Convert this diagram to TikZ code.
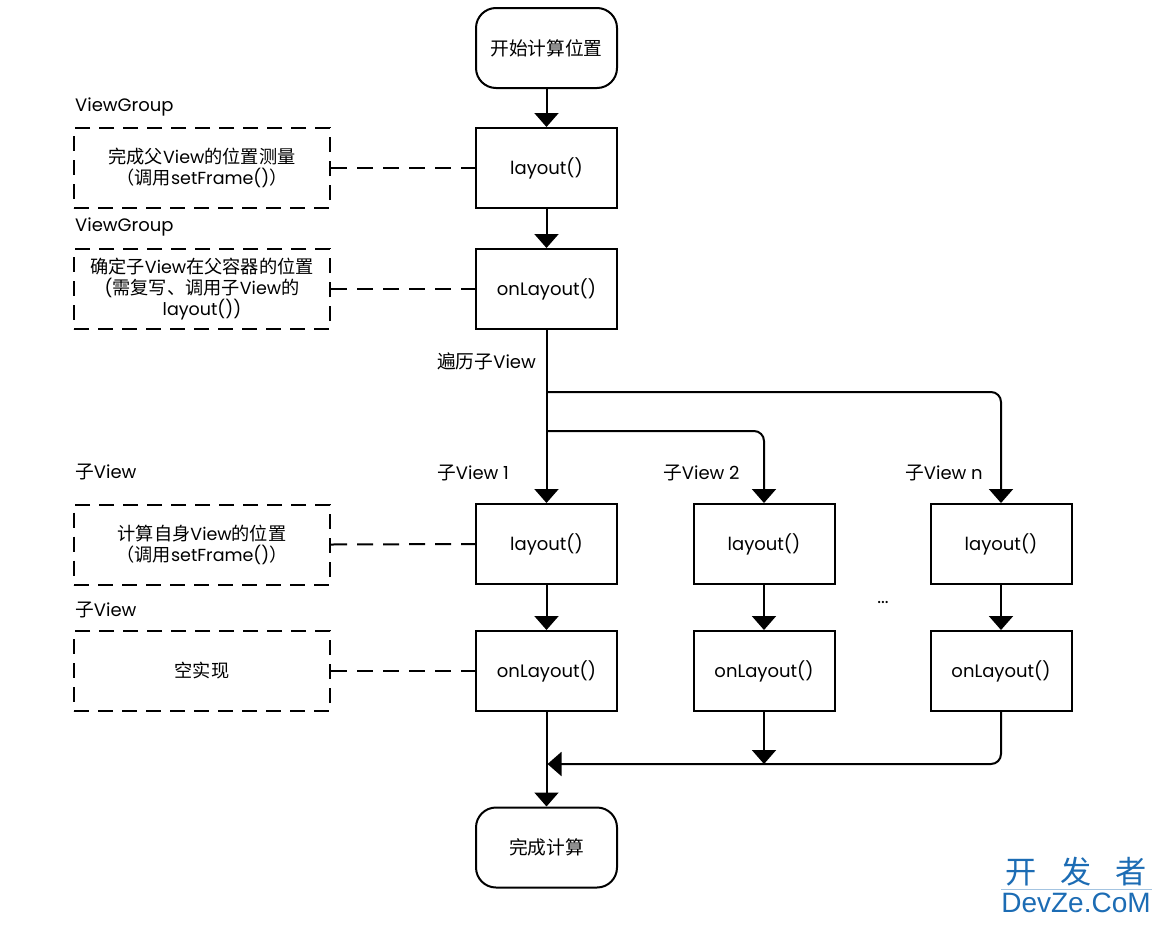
\documentclass[tikz,border=0pt]{standalone}
\usepackage{fontspec}
\setmainfont{Poppins}
\newfontfamily\cjkf[Scale=1.04]{Noto Sans CJK SC}
\newfontfamily\wmfont{Liberation Sans}
\newcommand{\zhc}[1]{{\cjkf #1}}
\usetikzlibrary{arrows.meta}
\definecolor{wmblue}{RGB}{28,108,180}
\begin{document}
\begin{tikzpicture}[x=1pt,y=-1pt,
  txt/.style={font=\fontsize{18}{20}\selectfont},
  box/.style={draw,line width=2pt,minimum width=141pt,minimum height=80pt,inner sep=0pt,align=center,txt},
  term/.style={box,rounded corners=20pt},
  note/.style={draw,line width=2pt,dash pattern=on 15pt off 9pt,minimum width=256pt,minimum height=80pt,inner sep=0pt,align=center,font=\fontsize{17.5}{21}\selectfont},
  lbl/.style={anchor=west,inner sep=0pt,txt},
  arr/.style={line width=2pt,-{Triangle[width=24pt,length=14pt]}},
  link/.style={line width=2pt,dash pattern=on 16pt off 10pt}
]
\useasboundingbox (0,0) rectangle (1159,924);
% main column
\node[term] (start) at (546.5,48) {\zhc{开始计算位置}};
\node[box] (lay0) at (546.5,168) {layout()};
\node[box] (onl0) at (546.5,289) {onLayout()};
\node[box] (lay1) at (546.5,544) {layout()};
\node[box] (onl1) at (546.5,671) {onLayout()};
\node[box] (lay2) at (764,544) {layout()};
\node[box] (onl2) at (764,671) {onLayout()};
\node[box] (layn) at (1001,544) {layout()};
\node[box] (onln) at (1001,671) {onLayout()};
\node[term] (end) at (546.5,847.5) {\zhc{完成计算}};
% notes
\node[note] (n1) at (202,168) {\zhc{完成父}View\zhc{的位置测量}\\\zhc{（调用}setFrame()\zhc{）}};
\node[note] (n2) at (202,289) {\zhc{确定子}View\zhc{在父容器的位置}\\(\zhc{需复写、调用子}View\zhc{的}\\layout())};
\node[note] (n3) at (202,544.5) {\zhc{计算自身}View\zhc{的位置}\\\zhc{（调用}setFrame()\zhc{）}};
\node[note] (n4) at (202,671) {\zhc{空实现}};
% labels
\node[lbl] (t1) at (75,107) {ViewGroup};
\node[lbl] (t2) at (75,227) {ViewGroup};
\node[lbl] (t3) at (75,472) {\zhc{子}View};
\node[lbl] (t4) at (75,610) {\zhc{子}View};
\node[lbl] (t5) at (437,361) {\zhc{遍历子}View};
\node[lbl] (t6) at (437,473) {\zhc{子}View 1};
\node[lbl] (t7) at (663,473) {\zhc{子}View 2};
\node[lbl] (t8) at (905,473) {\zhc{子}View n};
\node[txt,inner sep=0pt] (dots) at (883,602) {...};
% dashed links
\draw[link] (n1.east) -- (lay0.west);
\draw[link] (n2.east) -- (onl0.west);
\draw[link] (n3.east) -- (lay1.west);
\draw[link] (n4.east) -- (onl1.west);
% arrows
\draw[arr] (start) -- (lay0);
\draw[arr] (lay0) -- (onl0);
\draw[arr] (onl0) -- (lay1);
\coordinate (bA) at (546.5,392);
\coordinate (bB) at (546.5,431);
\draw[arr,rounded corners=10pt] (bA) -| (layn.north);
\draw[arr,rounded corners=10pt] (bB) -| (lay2.north);
\draw[arr] (lay1) -- (onl1);
\draw[arr] (lay2) -- (onl2);
\draw[arr] (layn) -- (onln);
\draw[arr] (onl1) -- (end);
\coordinate (m2) at (764,764);
\coordinate (mg) at (547.5,764);
\draw[arr] (onl2.south) -- (m2);
\draw[arr,rounded corners=10pt] (onln.south) |- (mg);
% watermark
\node[inner sep=0pt,text=wmblue,font=\cjkf\fontsize{30}{30}\selectfont] (wm1) at (1076,872) {开\hspace{24pt}发\hspace{24pt}者};
\node[inner sep=0pt,text=wmblue,font=\wmfont\fontsize{28}{28}\selectfont] (wm2) at (1076,903) {DevZe.CoM};
\draw[wmblue!40,line width=0.6pt] (1001,889.5) -- (1152,889.5);
\end{tikzpicture}
\end{document}
